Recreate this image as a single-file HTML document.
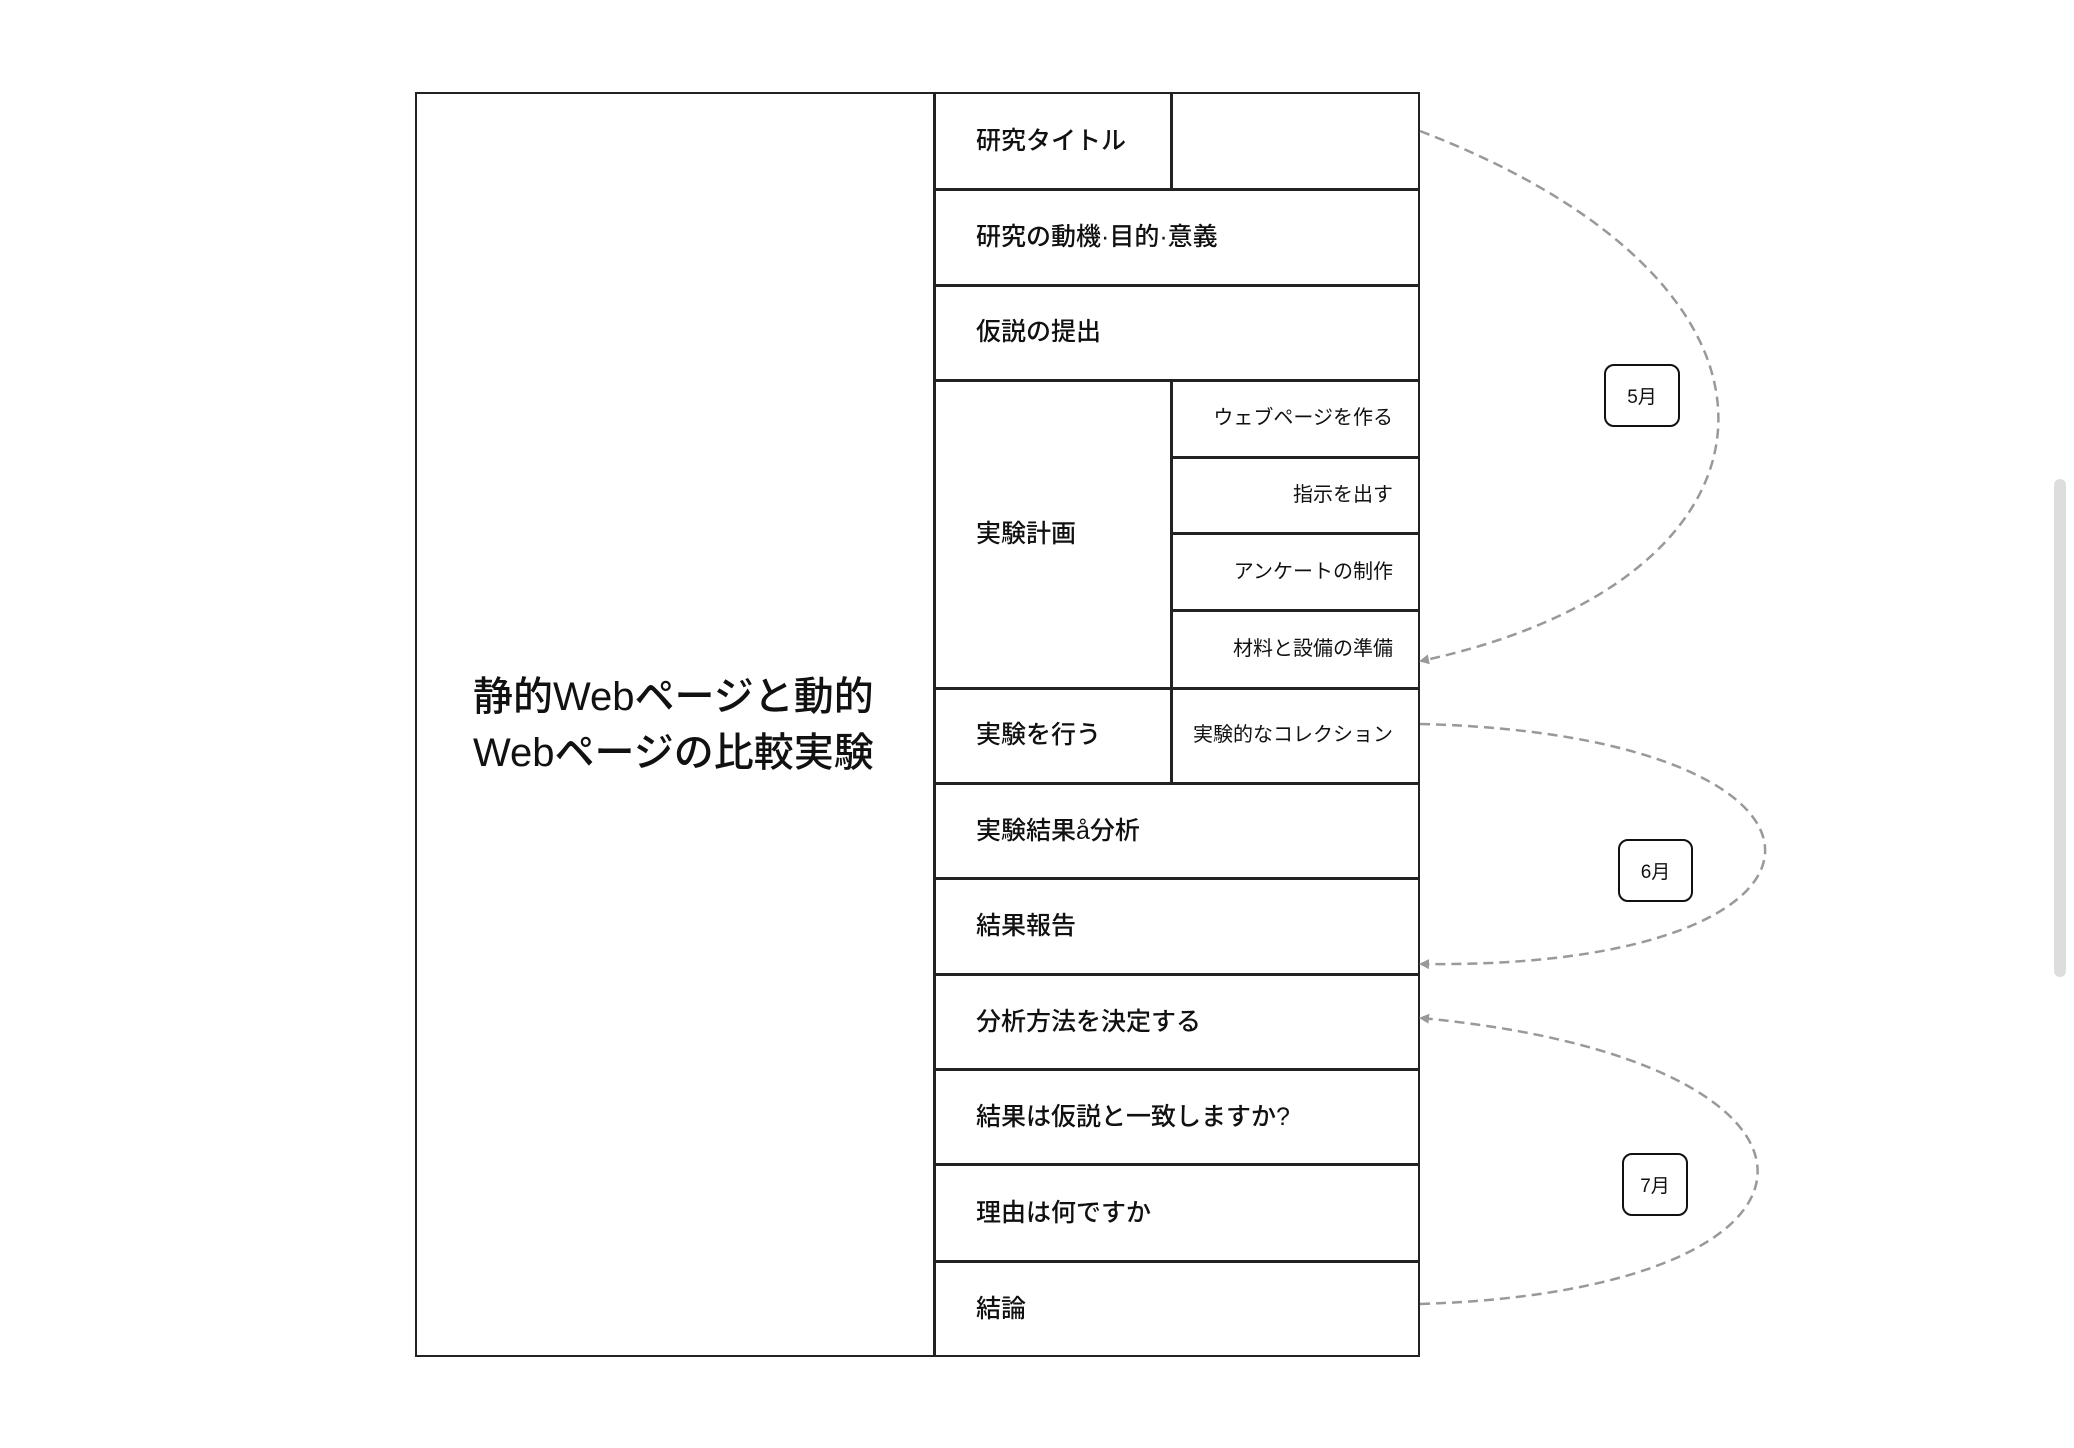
<!DOCTYPE html>
<html><head><meta charset="utf-8"><style>
html,body{margin:0;padding:0;background:#fff;width:2074px;height:1448px;overflow:hidden;position:relative;font-family:"Liberation Sans","Noto Sans CJK JP",sans-serif;color:#111}
.b{position:absolute;box-sizing:border-box;border:2.5px solid #222;background:#fff}
.t{position:absolute;font-size:25px;line-height:30px;white-space:nowrap;font-weight:500}
.s{position:absolute;font-size:20px;line-height:24px;white-space:nowrap;text-align:right}
.m{position:absolute;box-sizing:border-box;border:2.5px solid #111;border-radius:10px;background:#fff;font-size:19px;display:flex;align-items:center;justify-content:center}
</style></head><body>
<div class="b" style="left:415px;top:92px;width:1005px;height:1265px"></div>
<div style="position:absolute;left:933px;top:92px;width:2.5px;height:1265px;background:#222"></div>
<div style="position:absolute;left:1170px;top:92px;width:2.5px;height:97px;background:#222"></div>
<div style="position:absolute;left:1170px;top:380px;width:2.5px;height:403px;background:#222"></div>
<div style="position:absolute;left:933px;width:487px;height:2.5px;background:#222;top:188px"></div>
<div style="position:absolute;left:933px;width:487px;height:2.5px;background:#222;top:284px"></div>
<div style="position:absolute;left:933px;width:487px;height:2.5px;background:#222;top:379px"></div>
<div style="position:absolute;left:1170px;width:250px;height:2.5px;background:#222;top:456px"></div>
<div style="position:absolute;left:1170px;width:250px;height:2.5px;background:#222;top:532px"></div>
<div style="position:absolute;left:1170px;width:250px;height:2.5px;background:#222;top:609px"></div>
<div style="position:absolute;left:933px;width:487px;height:2.5px;background:#222;top:687px"></div>
<div style="position:absolute;left:933px;width:487px;height:2.5px;background:#222;top:782px"></div>
<div style="position:absolute;left:933px;width:487px;height:2.5px;background:#222;top:877px"></div>
<div style="position:absolute;left:933px;width:487px;height:2.5px;background:#222;top:973px"></div>
<div style="position:absolute;left:933px;width:487px;height:2.5px;background:#222;top:1068px"></div>
<div style="position:absolute;left:933px;width:487px;height:2.5px;background:#222;top:1163px"></div>
<div style="position:absolute;left:933px;width:487px;height:2.5px;background:#222;top:1260px"></div>

<div class="t" style="left:473px;top:669px;font-size:40px;line-height:56px;text-align:left">静的Webページと動的<br>Webページの比較実験</div>

<div class="t" style="left:976px;top:126px">研究タイトル</div>
<div class="t" style="left:976px;top:222px">研究の動機·目的·意義</div>
<div class="t" style="left:976px;top:317px">仮説の提出</div>
<div class="t" style="left:976px;top:519px">実験計画</div>
<div class="t" style="left:976px;top:720px">実験を行う</div>
<div class="t" style="left:976px;top:816px">実験結果å分析</div>
<div class="t" style="left:976px;top:911px">結果報告</div>
<div class="t" style="left:976px;top:1007px">分析方法を決定する</div>
<div class="t" style="left:976px;top:1102px">結果は仮説と一致しますか?</div>
<div class="t" style="left:976px;top:1198px">理由は何ですか</div>
<div class="t" style="left:976px;top:1294px">結論</div>

<div class="s" style="right:681px;top:406px">ウェブページを作る</div>
<div class="s" style="right:681px;top:483px">指示を出す</div>
<div class="s" style="right:681px;top:560px">アンケートの制作</div>
<div class="s" style="right:681px;top:637px">材料と設備の準備</div>
<div class="s" style="right:681px;top:723px">実験的なコレクション</div>

<svg style="position:absolute;left:0;top:0" width="2074" height="1448">
<defs><marker id="a" markerWidth="10" markerHeight="10" refX="8" refY="5" orient="auto" markerUnits="userSpaceOnUse"><path d="M0,0 L10,5 L0,10 z" fill="#999"/></marker></defs>
<g fill="none" stroke="#999" stroke-width="2.5" stroke-dasharray="10 6">
<path d="M1420,131 C1835,290 1800,580 1421,661" marker-end="url(#a)"/>
<path d="M1420,724 C1880,735 1880,970 1421,964" marker-end="url(#a)"/>
<path d="M1420,1304 C1870,1290 1870,1060 1421,1018" marker-end="url(#a)"/>
</g></svg>

<div class="m" style="left:1604px;top:364px;width:76px;height:63px">5月</div>
<div class="m" style="left:1618px;top:839px;width:75px;height:63px">6月</div>
<div class="m" style="left:1622px;top:1153px;width:66px;height:63px">7月</div>

<div style="position:absolute;left:2054px;top:479px;width:12px;height:498px;background:#ddd;border-radius:6px"></div>
</body></html>
